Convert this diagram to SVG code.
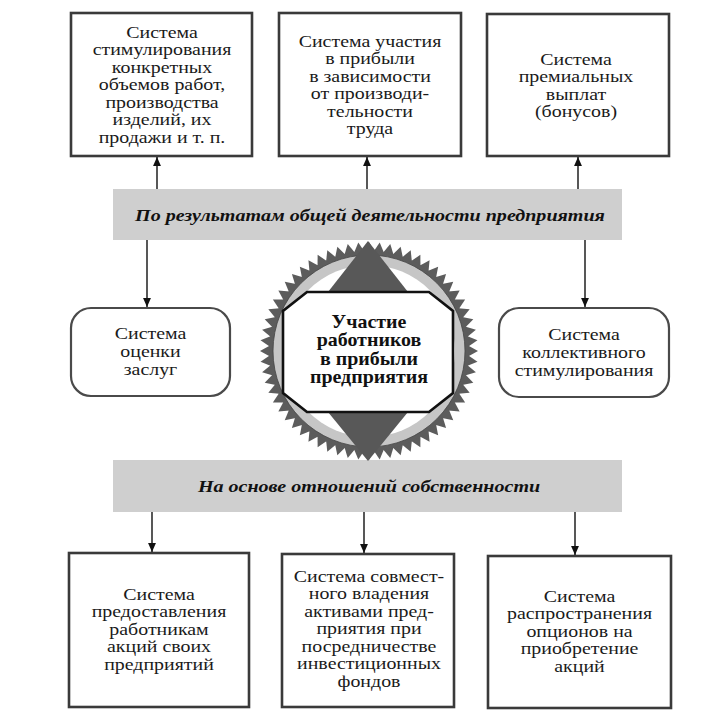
<svg xmlns="http://www.w3.org/2000/svg" width="712" height="726" viewBox="0 0 712 726">
<style>
.box{fill:#fff;stroke:#3a3a3a;stroke-width:2.6}
.rbox{fill:#fff;stroke:#4a4a4a;stroke-width:2.2}
.band{fill:#cfcfcf}
.t{font-family:"Liberation Serif","Times New Roman",serif;font-size:17px;fill:#1a1a1a;text-anchor:middle}
.bt{font-family:"Liberation Serif","Times New Roman",serif;font-size:17px;font-weight:bold;font-style:italic;fill:#111;text-anchor:middle}
.ct{font-family:"Liberation Serif","Times New Roman",serif;font-size:19px;font-weight:bold;fill:#111;text-anchor:middle}
.ln{stroke:#111;stroke-width:1.4;fill:none}
</style>
<defs>
<marker id="ah" viewBox="0 0 10 10" refX="10" refY="5" markerWidth="11" markerHeight="9" markerUnits="userSpaceOnUse" orient="auto">
<path d="M0,0.6 L10,5 L0,9.4 Z" fill="#111"/>
</marker>
<polygon id="tooth" points="-5.4,-99 5.4,-99 0,-109" fill="#5c5c5c"/>
<g id="t4">
<use href="#tooth"/>
<use href="#tooth" transform="rotate(5.625)"/>
<use href="#tooth" transform="rotate(11.25)"/>
<use href="#tooth" transform="rotate(16.875)"/>
</g>
<g id="t16">
<use href="#t4"/>
<use href="#t4" transform="rotate(22.5)"/>
<use href="#t4" transform="rotate(45)"/>
<use href="#t4" transform="rotate(67.5)"/>
</g>
</defs>

<g id="band-top">
<rect class="band" x="113" y="189" width="509" height="51"/>
<text class="bt" transform="translate(370 0) scale(1.18 1)"><tspan x="0" y="221">По результатам общей деятельности предприятия</tspan></text>
</g>
<g id="band-bottom">
<rect class="band" x="113" y="460" width="509" height="52"/>
<text class="bt" transform="translate(369 0) scale(1.18 1)"><tspan x="0" y="492">На основе отношений собственности</tspan></text>
</g>

<g id="box-stimul">
<rect class="box" x="71" y="13" width="181" height="143"/>
<text class="t" transform="translate(162 0) scale(1.17 1)"><tspan x="0" y="38">Система</tspan><tspan x="0" y="55.5">стимулирования</tspan><tspan x="0" y="73">конкретных</tspan><tspan x="0" y="90.5">объемов работ,</tspan><tspan x="0" y="108">производства</tspan><tspan x="0" y="125.5">изделий, их</tspan><tspan x="0" y="143">продажи и т. п.</tspan></text>
</g>
<g id="box-profit">
<rect class="box" x="279" y="13" width="182" height="143"/>
<text class="t" transform="translate(370 0) scale(1.17 1)"><tspan x="0" y="47">Система участия</tspan><tspan x="0" y="64.5">в прибыли</tspan><tspan x="0" y="82">в зависимости</tspan><tspan x="0" y="99.5">от производи-</tspan><tspan x="0" y="117">тельности</tspan><tspan x="0" y="134.5">труда</tspan></text>
</g>
<g id="box-bonus">
<rect class="box" x="487" y="14" width="182" height="142"/>
<text class="t" transform="translate(576 0) scale(1.17 1)"><tspan x="0" y="65">Система</tspan><tspan x="0" y="82.5">премиальных</tspan><tspan x="0" y="100">выплат</tspan><tspan x="0" y="117.5">(бонусов)</tspan></text>
</g>

<g id="box-merit">
<rect class="rbox" x="71" y="308" width="159" height="88" rx="20"/>
<text class="t" transform="translate(150.5 0) scale(1.17 1)"><tspan x="0" y="339">Система</tspan><tspan x="0" y="357">оценки</tspan><tspan x="0" y="375">заслуг</tspan></text>
</g>
<g id="box-collective">
<rect class="rbox" x="499" y="308" width="170" height="89" rx="20"/>
<text class="t" transform="translate(584 0) scale(1.17 1)"><tspan x="0" y="340">Система</tspan><tspan x="0" y="358">коллективного</tspan><tspan x="0" y="376">стимулирования</tspan></text>
</g>

<g id="emblem">
<g transform="translate(369,351)">
<use href="#t16"/>
<use href="#t16" transform="rotate(90)"/>
<use href="#t16" transform="rotate(180)"/>
<use href="#t16" transform="rotate(270)"/>
<circle r="100" fill="#5c5c5c"/>
<circle r="96" fill="#c6c6c6" stroke="#444" stroke-width="0.8"/>
<circle r="86" fill="#fff"/>
</g>
<polygon points="368,241 408,292 328,292" fill="#585858"/>
<polygon points="328,412 408,412 368,461" fill="#585858"/>
<polygon points="307,292 429,292 453,311 453,393 429,412 307,412 283,393 283,311" fill="#fff" stroke="#111" stroke-width="2.6"/>
<text class="ct" transform="translate(369 0) scale(1.05 1)"><tspan x="0" y="328">Участие</tspan><tspan x="0" y="346.5">работников</tspan><tspan x="0" y="365">в прибыли</tspan><tspan x="0" y="383.5">предприятия</tspan></text>
</g>

<g id="box-shares">
<rect class="box" x="69" y="553" width="180" height="154"/>
<text class="t" transform="translate(159 0) scale(1.17 1)"><tspan x="0" y="600">Система</tspan><tspan x="0" y="617.5">предоставления</tspan><tspan x="0" y="635">работникам</tspan><tspan x="0" y="652.5">акций своих</tspan><tspan x="0" y="670">предприятий</tspan></text>
</g>
<g id="box-funds">
<rect class="box" x="282" y="554" width="172" height="153"/>
<text class="t" transform="translate(369 0) scale(1.17 1)"><tspan x="0" y="582">Система совмест-</tspan><tspan x="0" y="599.5">ного владения</tspan><tspan x="0" y="617">активами пред-</tspan><tspan x="0" y="634.5">приятия при</tspan><tspan x="0" y="652">посредничестве</tspan><tspan x="0" y="669.5">инвестиционных</tspan><tspan x="0" y="687">фондов</tspan></text>
</g>
<g id="box-options">
<rect class="box" x="488" y="556" width="183" height="152"/>
<text class="t" transform="translate(579.5 0) scale(1.17 1)"><tspan x="0" y="602">Система</tspan><tspan x="0" y="619.5">распространения</tspan><tspan x="0" y="637">опционов на</tspan><tspan x="0" y="654.5">приобретение</tspan><tspan x="0" y="672">акций</tspan></text>
</g>

<g id="connectors">
<line class="ln" x1="157" y1="189" x2="157" y2="157" marker-end="url(#ah)"/>
<line class="ln" x1="367" y1="189" x2="367" y2="157" marker-end="url(#ah)"/>
<line class="ln" x1="578" y1="189" x2="578" y2="157" marker-end="url(#ah)"/>
<line class="ln" x1="147" y1="240" x2="147" y2="307" marker-end="url(#ah)"/>
<line class="ln" x1="585" y1="240" x2="585" y2="307" marker-end="url(#ah)"/>
<line class="ln" x1="152" y1="512" x2="152" y2="552" marker-end="url(#ah)"/>
<line class="ln" x1="364" y1="512" x2="364" y2="553" marker-end="url(#ah)"/>
<line class="ln" x1="575" y1="512" x2="575" y2="555" marker-end="url(#ah)"/>
</g>
</svg>
